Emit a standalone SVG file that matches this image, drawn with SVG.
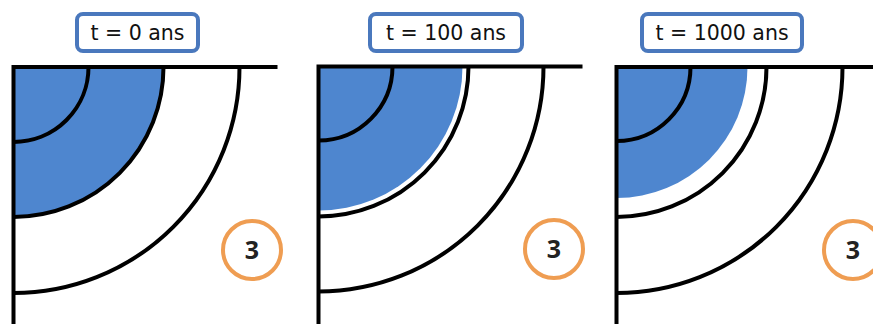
<svg xmlns="http://www.w3.org/2000/svg" width="873" height="324" viewBox="0 0 873 324">
<style>
.lbl{fill:#fff;stroke:#4a78bd;stroke-width:4}
.lt{font-family:"DejaVu Sans",sans-serif;font-size:20.5px;fill:#111;text-anchor:middle}
.ax{fill:none;stroke:#000;stroke-width:4}
.arc{fill:none;stroke:#000;stroke-width:4}
.blue{fill:#4e86cf}
.num{fill:#fff;stroke:#ef9d52;stroke-width:4}
.nt{font-family:"Open Sans",sans-serif;font-size:25px;font-weight:bold;fill:#222;text-anchor:middle}
</style>
<rect width="873" height="324" fill="#fff"/>
<g id="panel1" transform="translate(13.5,67)">
<path class="blue" d="M0 0 H150 A150 150 0 0 1 0 150 Z"/>
<path class="arc" d="M75 0 A75 75 0 0 1 0 75"/>
<path class="arc" d="M150 0 A150 150 0 0 1 0 150"/>
<path class="arc" d="M226 0 A226 226 0 0 1 0 226"/>
<path class="ax" d="M0 260 V0 H264"/>
</g>
<g id="panel2" transform="translate(318.5,66.5)">
<path class="blue" d="M0 0 H144 A144 144 0 0 1 0 144 Z"/>
<path class="arc" d="M74 0 A74 74 0 0 1 0 74"/>
<path class="arc" d="M150 0 A150 150 0 0 1 0 150"/>
<path class="arc" d="M225 0 A225 225 0 0 1 0 225"/>
<path class="ax" d="M0 260 V0 H264"/>
</g>
<g id="panel3" transform="translate(616.5,67)">
<path class="blue" d="M0 0 H131 A131 131 0 0 1 0 131 Z"/>
<path class="arc" d="M74 0 A74 74 0 0 1 0 74"/>
<path class="arc" d="M150 0 A150 150 0 0 1 0 150"/>
<path class="arc" d="M226 0 A226 226 0 0 1 0 226"/>
<path class="ax" d="M0 260 V0 H260"/>
</g>
<g id="label1"><rect class="lbl" x="77" y="14" width="121" height="37" rx="6"/><text class="lt" x="137.5" y="40">t = 0 ans</text></g>
<g id="label2"><rect class="lbl" x="370" y="14" width="152" height="37" rx="6"/><text class="lt" x="446" y="40">t = 100 ans</text></g>
<g id="label3"><rect class="lbl" x="642" y="14" width="160" height="37" rx="6"/><text class="lt" x="722" y="40">t = 1000 ans</text></g>
<g id="num1"><circle class="num" cx="252" cy="250" r="29"/><text class="nt" x="252" y="259">3</text></g>
<g id="num2"><circle class="num" cx="554" cy="249" r="29"/><text class="nt" x="554" y="258">3</text></g>
<g id="num3"><circle class="num" cx="853" cy="250" r="29"/><text class="nt" x="853" y="259">3</text></g>
</svg>
